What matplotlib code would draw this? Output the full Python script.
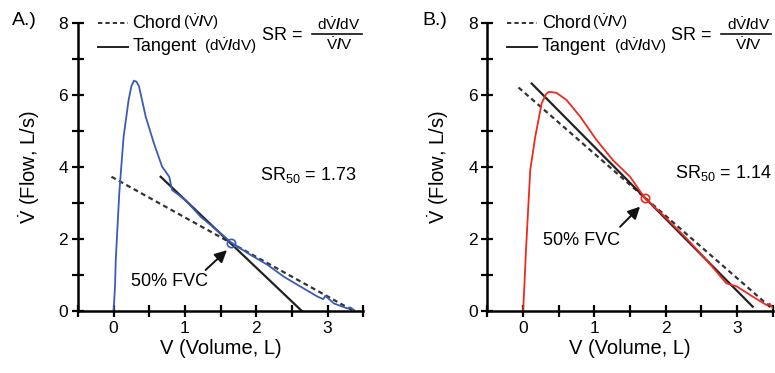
import matplotlib
matplotlib.use("Agg")
import matplotlib.pyplot as plt
import numpy as np

plt.rcParams['font.family'] = ['Liberation Sans', 'DejaVu Sans']
plt.rcParams['mathtext.fontset'] = 'custom'
plt.rcParams['mathtext.rm'] = 'Liberation Sans'
plt.rcParams['mathtext.it'] = 'Liberation Sans:italic'
plt.rcParams['mathtext.bf'] = 'Liberation Sans:bold'

# Panel A flow-volume curve
vol_a = [0.0, 0.02, 0.03, 0.08, 0.14, 0.21, 0.25, 0.285, 0.32, 0.355, 0.45, 0.565,
         0.68, 0.78, 0.82, 1.01, 1.22, 1.50, 1.65, 1.92, 2.16, 2.39, 2.62, 2.86,
         2.94, 2.97, 3.09, 3.28, 3.32, 3.37]
flow_a = [0.0, 0.7, 1.42, 3.3, 4.84, 5.86, 6.25, 6.40, 6.37, 6.25, 5.40, 4.66,
          4.01, 3.73, 3.36, 3.08, 2.62, 2.16, 1.90, 1.56, 1.28, 0.95, 0.68, 0.40,
          0.33, 0.42, 0.21, 0.07, 0.10, 0.03]
sr50_a = "1.73"
pt_a = (1.65, 1.90)
tan_a = ([0.66, 2.64], [3.73, 0.0])
chord_a = ([-0.03, 3.37], [3.73, 0.0])

# Panel B flow-volume curve
vol_b = [0.0, 0.02, 0.04, 0.10, 0.17, 0.26, 0.32, 0.36, 0.47, 0.61, 0.80, 1.03,
         1.26, 1.50, 1.71, 1.96, 2.29, 2.57, 2.85, 2.93, 2.99, 3.22, 3.41, 3.46, 3.52]
flow_b = [0.0, 0.8, 1.69, 3.92, 4.84, 5.77, 6.02, 6.09, 6.06, 5.86, 5.40, 4.75,
          4.19, 3.73, 3.13, 2.67, 2.02, 1.42, 0.77, 0.72, 0.69, 0.40, 0.17, 0.20, 0.03]
sr50_b = "1.14"
pt_b = (1.71, 3.13)
tan_b = ([0.12, 3.22], [6.32, 0.12])
chord_b = ([-0.065, 3.50], [6.21, 0.05])

blue = '#3b5bb8'
red = '#ee2a1e'

fig = plt.figure(figsize=(7.75, 3.73), dpi=100)
ax_a = fig.add_axes([0.1006, 0.1662, 0.368, 0.772])
ax_b = fig.add_axes([0.629, 0.1662, 0.368, 0.772])

panels = [
    (ax_a, vol_a, flow_a, blue, sr50_a, pt_a, tan_a, chord_a,
     (0.24, 0.81), (1.29, 1.14), (1.59, 1.69), (2.06, 3.78)),
    (ax_b, vol_b, flow_b, red, sr50_b, pt_b, tan_b, chord_b,
     (0.28, 1.97), (1.36, 2.34), (1.64, 2.90), (2.13, 3.83)),
]

dV = r"$\dot{\mathrm{V}}$"
sl = r"$\mathbf{/}$"

for ax, v, f, col, sr, pt, tan, chord, fvc_xy, arr_tail, arr_tip, sr_xy in panels:
    ax.plot(chord[0], chord[1], color='#333333', lw=1.6, ls=(0, (2.2, 1.6)))
    ax.plot(tan[0], tan[1], color='#222222', lw=1.6)
    ax.plot(v, f, color=col, lw=1.3)
    ax.plot([pt[0]], [pt[1]], 'o', mfc='none', mec=col, ms=6, mew=1.2)

    ax.set_xlim(-0.5, 3.5)
    ax.set_ylim(0, 8)
    ax.set_xticks([0, 1, 2, 3])
    ax.set_xticks([-0.5, 0.5, 1.5, 2.5, 3.5], minor=True)
    ax.set_yticks([0, 2, 4, 6, 8])
    ax.set_yticks([1, 3, 5, 7], minor=True)
    ax.tick_params(which='both', direction='inout', length=8, width=1.6,
                   labelsize=12.5, pad=3)
    for s in ['top', 'right']:
        ax.spines[s].set_visible(False)
    for s in ['left', 'bottom']:
        ax.spines[s].set_linewidth(1.8)
    ax.set_xlabel("V (Volume, L)", fontsize=14.5, labelpad=2)
    ax.set_ylabel(dV + " (Flow, L/s)", fontsize=14.5, labelpad=12)

    ax.text(fvc_xy[0], fvc_xy[1], "50% FVC", fontsize=13, va='center', ha='left')
    ax.annotate("", xy=arr_tip, xytext=arr_tail,
                arrowprops=dict(arrowstyle='-|>', color='#111111', lw=1.4,
                                mutation_scale=18, shrinkA=0, shrinkB=0))
    ax.text(sr_xy[0], sr_xy[1], r"SR$_{50}$ = " + sr, fontsize=13,
            va='center', ha='left')

    # legend-like header drawn in axes fraction
    tr = ax.transAxes
    ax.plot([0.07, 0.175], [1.0, 1.0], transform=tr, color='#333333', lw=1.4,
            ls=(0, (2.2, 1.6)), clip_on=False)
    ax.plot([0.07, 0.175], [0.917, 0.917], transform=tr, color='#222222', lw=1.4,
            clip_on=False)
    ax.text(0.19, 1.0, "Chord", transform=tr, fontsize=13, va='center')
    ax.text(0.368, 1.005, "(" + dV + sl + "V)", transform=tr, fontsize=11, va='center')
    ax.text(0.19, 0.917, "Tangent", transform=tr, fontsize=13, va='center')
    ax.text(0.443, 0.92, "(d" + dV + sl + "dV)", transform=tr, fontsize=11, va='center')
    ax.text(0.645, 0.958, "SR =", transform=tr, fontsize=13, va='center')
    ax.text(0.915, 0.995, "d" + dV + sl + "dV", transform=tr, fontsize=11,
            va='center', ha='center')
    ax.plot([0.82, 0.995], [0.962, 0.962], transform=tr, color='#111111', lw=1.2,
            clip_on=False)
    ax.text(0.915, 0.925, dV + sl + "V", transform=tr, fontsize=11,
            va='center', ha='center')

fig.text(0.016, 0.945, "A.)", fontsize=14, va='center')
fig.text(0.545, 0.945, "B.)", fontsize=14, va='center')

fig.savefig("out.png", dpi=100)
